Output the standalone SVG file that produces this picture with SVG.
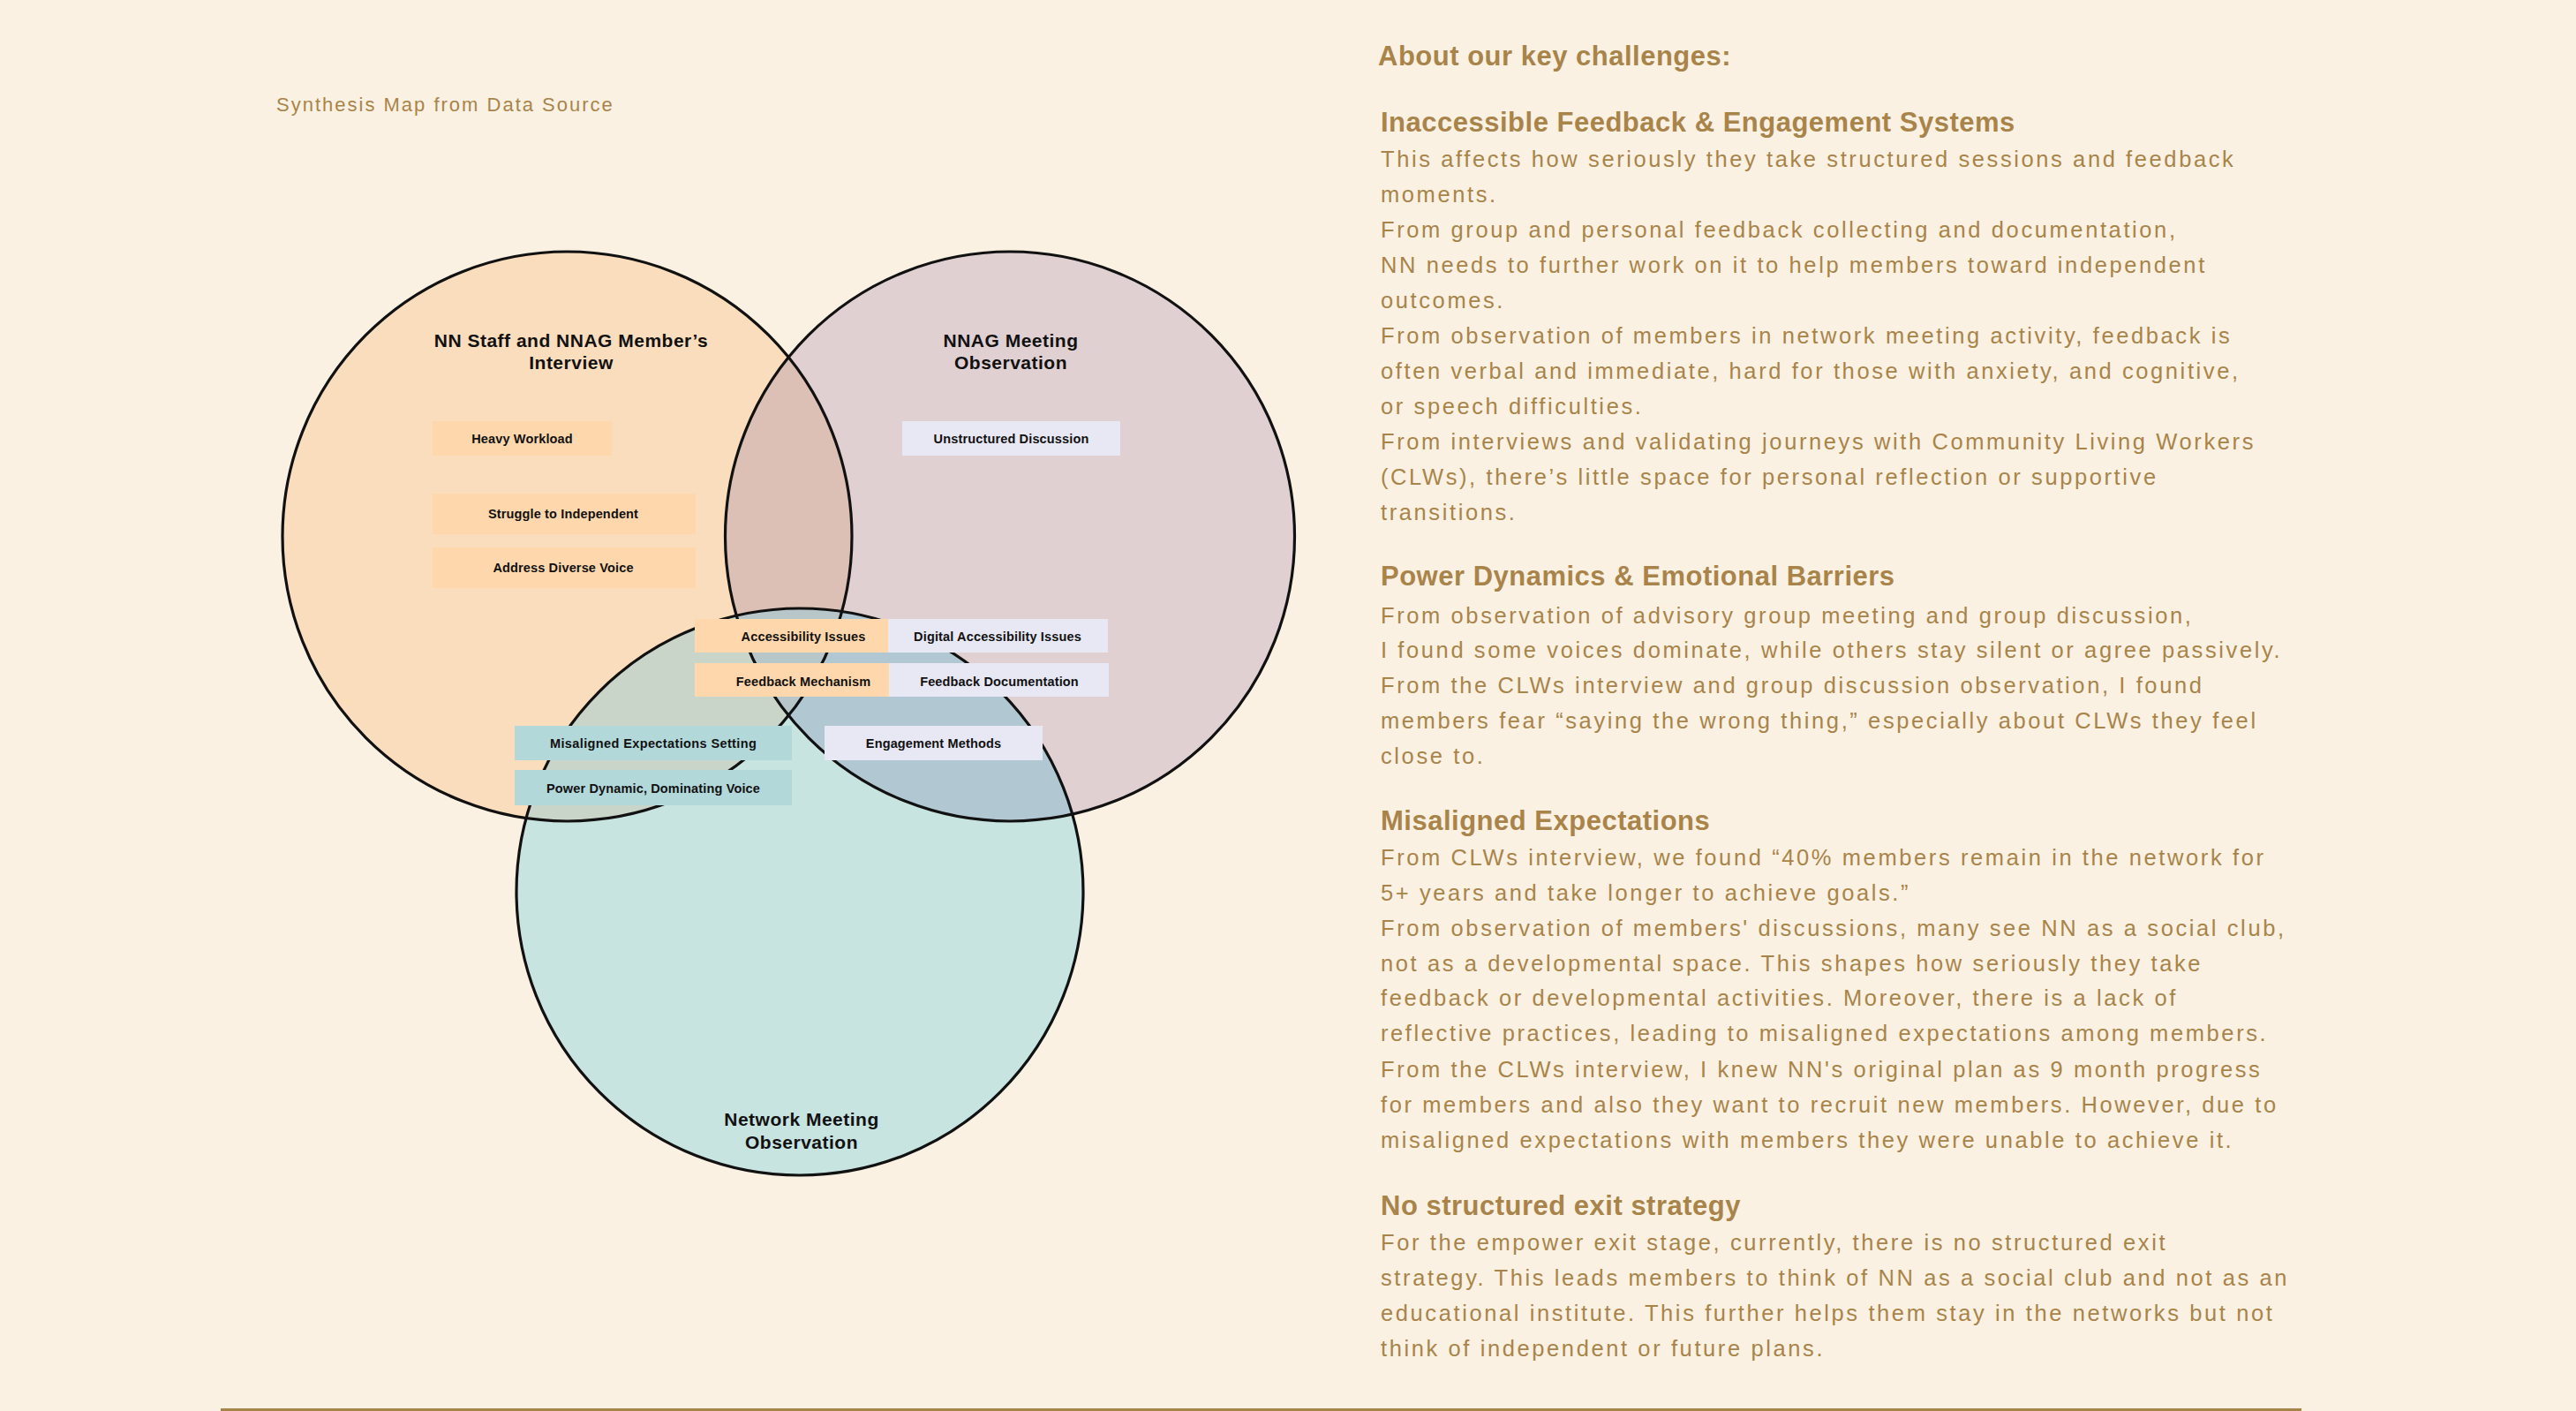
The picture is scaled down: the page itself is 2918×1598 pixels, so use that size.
<svg xmlns="http://www.w3.org/2000/svg" width="2918" height="1598" viewBox="0 0 2918 1598">
<style>
.bg{fill:#FBF1E2}
.ring{fill:none;stroke:#111;stroke-width:3.2}
.lab{font-family:"Liberation Sans",Arial,sans-serif;font-weight:bold;font-size:21px;letter-spacing:0.5px;fill:#111;text-anchor:middle}
.bt{font-family:"Liberation Sans",Arial,sans-serif;font-weight:bold;font-size:14.5px;letter-spacing:0.15px;fill:#111;text-anchor:middle}
.ob{fill:#FED8AC}
.lb{fill:#E8E8F4}
.tb{fill:#B2D8DA}
.h{font-family:"Liberation Sans",Arial,sans-serif;font-weight:bold;font-size:31px;letter-spacing:0.5px;fill:#A8844A}
.p{font-family:"Liberation Sans",Arial,sans-serif;font-size:25.5px;fill:#A8844A;letter-spacing:2.6px}
.cap{font-family:"Liberation Sans",Arial,sans-serif;font-size:22px;fill:#A8844A;letter-spacing:2px}
</style>
<defs>
<clipPath id="cO"><circle cx="642.5" cy="607.5" r="322.5"/></clipPath>
<clipPath id="cM"><circle cx="1144" cy="607.5" r="322.5"/></clipPath>
<clipPath id="cT"><circle cx="906" cy="1010" r="321"/></clipPath>
</defs>
<rect class="bg" x="0" y="0" width="2918" height="1598"/>
<text class="cap" x="313" y="126">Synthesis Map from Data Source</text>

<g id="venn-fills">
<circle cx="642.5" cy="607.5" r="322.5" fill="#FADDBC"/>
<circle cx="1144" cy="607.5" r="322.5" fill="#E0D0D2"/>
<circle cx="906" cy="1010" r="321" fill="#C8E4E1"/>
<g clip-path="url(#cO)"><circle cx="1144" cy="607.5" r="322.5" fill="#DCC0B5"/></g>
<g clip-path="url(#cO)"><circle cx="906" cy="1010" r="321" fill="#C9D5C8"/></g>
<g clip-path="url(#cM)"><circle cx="906" cy="1010" r="321" fill="#B1C8D3"/></g>
<g clip-path="url(#cO)"><g clip-path="url(#cM)"><circle cx="906" cy="1010" r="321" fill="#B7C6C9"/></g></g>
</g>

<g id="node-interview">
<circle class="ring" cx="642.5" cy="607.5" r="322.5"/>
<text class="lab" x="647" y="393">NN Staff and NNAG Member’s</text>
<text class="lab" x="647" y="418">Interview</text>
</g>
<g id="node-nnag">
<circle class="ring" cx="1144" cy="607.5" r="322.5"/>
<text class="lab" x="1145" y="393">NNAG Meeting</text>
<text class="lab" x="1145" y="418">Observation</text>
</g>
<g id="node-network">
<circle class="ring" cx="906" cy="1010" r="321"/>
<text class="lab" x="908" y="1275">Network Meeting</text>
<text class="lab" x="908" y="1301">Observation</text>
</g>

<g id="node-heavy-workload">
<rect class="ob" x="490" y="477" width="203" height="39"/>
<text class="bt" x="591.5" y="502">Heavy Workload</text>
</g>
<g id="node-struggle">
<rect class="ob" x="490" y="559" width="298" height="46"/>
<text class="bt" x="638" y="587">Struggle to Independent</text>
</g>
<g id="node-diverse-voice">
<rect class="ob" x="490" y="620" width="298" height="46"/>
<text class="bt" x="638" y="648">Address Diverse Voice</text>
</g>
<g id="node-unstructured">
<rect class="lb" x="1022" y="477" width="247" height="39"/>
<text class="bt" x="1145.5" y="502">Unstructured Discussion</text>
</g>
<g id="node-accessibility">
<rect class="ob" x="787" y="701" width="220" height="38"/>
<text class="bt" x="910" y="726">Accessibility Issues</text>
</g>
<g id="node-digital-accessibility">
<rect class="lb" x="1006" y="701" width="249" height="38"/>
<text class="bt" x="1130" y="726">Digital Accessibility Issues</text>
</g>
<g id="node-feedback-mechanism">
<rect class="ob" x="787" y="751" width="221" height="38"/>
<text class="bt" x="910" y="777">Feedback Mechanism</text>
</g>
<g id="node-feedback-documentation">
<rect class="lb" x="1007" y="751" width="249" height="38"/>
<text class="bt" x="1132" y="777">Feedback Documentation</text>
</g>
<g id="node-misaligned">
<rect class="tb" x="583" y="822" width="314" height="39"/>
<text class="bt" x="740" y="847" textLength="234" lengthAdjust="spacing">Misaligned Expectations Setting</text>
</g>
<g id="node-engagement">
<rect class="lb" x="934" y="822" width="247" height="39"/>
<text class="bt" x="1057.5" y="847">Engagement Methods</text>
</g>
<g id="node-power-dynamic">
<rect class="tb" x="583" y="872" width="314" height="40"/>
<text class="bt" x="740" y="898">Power Dynamic, Dominating Voice</text>
</g>

<g id="connectors"></g>

<g id="challenges-text">
<text class="h" x="1561" y="74">About our key challenges:</text>
<text class="h" x="1564" y="149">Inaccessible Feedback &amp; Engagement Systems</text>
<text class="p" x="1564" y="189">This affects how seriously they take structured sessions and feedback</text>
<text class="p" x="1564" y="229">moments.</text>
<text class="p" x="1564" y="269">From group and personal feedback collecting and documentation,</text>
<text class="p" x="1564" y="309">NN needs to further work on it to help members toward independent</text>
<text class="p" x="1564" y="349">outcomes.</text>
<text class="p" x="1564" y="389">From observation of members in network meeting activity, feedback is</text>
<text class="p" x="1564" y="429">often verbal and immediate, hard for those with anxiety, and cognitive,</text>
<text class="p" x="1564" y="469">or speech difficulties.</text>
<text class="p" x="1564" y="509">From interviews and validating journeys with Community Living Workers</text>
<text class="p" x="1564" y="549">(CLWs), there’s little space for personal reflection or supportive</text>
<text class="p" x="1564" y="589">transitions.</text>

<text class="h" x="1564" y="663">Power Dynamics &amp; Emotional Barriers</text>
<text class="p" x="1564" y="706">From observation of advisory group meeting and group discussion,</text>
<text class="p" x="1564" y="745">I found some voices dominate, while others stay silent or agree passively.</text>
<text class="p" x="1564" y="785">From the CLWs interview and group discussion observation, I found</text>
<text class="p" x="1564" y="825">members fear “saying the wrong thing,” especially about CLWs they feel</text>
<text class="p" x="1564" y="865">close to.</text>

<text class="h" x="1564" y="940">Misaligned Expectations</text>
<text class="p" x="1564" y="980">From CLWs interview, we found “40% members remain in the network for</text>
<text class="p" x="1564" y="1020">5+ years and take longer to achieve goals.”</text>
<text class="p" x="1564" y="1060">From observation of members' discussions, many see NN as a social club,</text>
<text class="p" x="1564" y="1100">not as a developmental space. This shapes how seriously they take</text>
<text class="p" x="1564" y="1139">feedback or developmental activities. Moreover, there is a lack of</text>
<text class="p" x="1564" y="1179">reflective practices, leading to misaligned expectations among members.</text>
<text class="p" x="1564" y="1220">From the CLWs interview, I knew NN's original plan as 9 month progress</text>
<text class="p" x="1564" y="1260">for members and also they want to recruit new members. However, due to</text>
<text class="p" x="1564" y="1300">misaligned expectations with members they were unable to achieve it.</text>

<text class="h" x="1564" y="1376">No structured exit strategy</text>
<text class="p" x="1564" y="1416">For the empower exit stage, currently, there is no structured exit</text>
<text class="p" x="1564" y="1456">strategy. This leads members to think of NN as a social club and not as an</text>
<text class="p" x="1564" y="1496">educational institute. This further helps them stay in the networks but not</text>
<text class="p" x="1564" y="1536">think of independent or future plans.</text>
</g>
<line x1="250" y1="1596.5" x2="2607" y2="1596.5" stroke="#A8844A" stroke-width="3"/>
</svg>
